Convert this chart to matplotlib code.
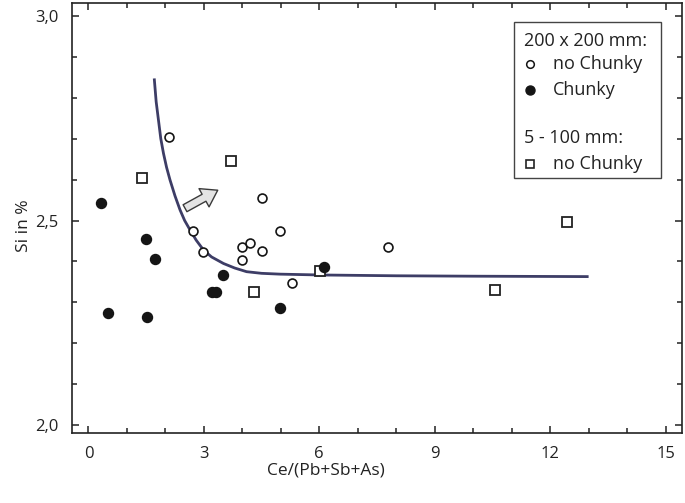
import matplotlib
matplotlib.use("Agg")
import matplotlib.pyplot as plt
from matplotlib.ticker import MultipleLocator, FixedLocator
from matplotlib.patches import Rectangle

plt.rcParams['font.family'] = ['Open Sans', 'DejaVu Sans']

# --- data ---
chunky_x = [0.33, 0.52, 1.50, 1.52, 1.73, 3.21, 3.32, 3.51, 4.98, 6.13]
chunky_y = [2.542, 2.273, 2.455, 2.265, 2.405, 2.325, 2.325, 2.366, 2.286, 2.387]

nochunky_x = [2.10, 4.50, 2.71, 4.99, 2.99, 4.00, 4.20, 4.51, 4.00, 5.30, 7.79]
nochunky_y = [2.703, 2.555, 2.475, 2.474, 2.424, 2.435, 2.444, 2.425, 2.404, 2.347, 2.436]

small_x = [1.39, 3.71, 4.29, 6.02, 10.58, 12.45]
small_y = [2.604, 2.645, 2.326, 2.377, 2.330, 2.497]

curve_x = [1.71, 1.76, 1.82, 1.88, 1.95, 2.03, 2.12, 2.25, 2.38, 2.50, 2.64, 2.80,
           2.99, 3.20, 3.51, 3.80, 4.11, 4.50, 4.98, 6.00, 8.00, 10.00, 13.00]
curve_y = [2.847, 2.790, 2.745, 2.700, 2.664, 2.630, 2.599, 2.560, 2.526, 2.500,
           2.477, 2.452, 2.428, 2.411, 2.395, 2.384, 2.375, 2.371, 2.369, 2.367,
           2.365, 2.364, 2.363]

arrow_tail = (2.51, 2.530)
arrow_tip = (3.36, 2.574)

x_ticks = [0, 3, 6, 9, 12, 15]
y_ticks = [2.0, 2.5, 3.0]
y_ticklabels = ["2,0", "2,5", "3,0"]

fig = plt.figure(figsize=(6.85, 5.03), dpi=100)
ax = fig.add_axes([72.3 / 685, 1 - 433 / 503, (681.7 - 72.3) / 685, (433 - 2.7) / 503])

ax.plot(curve_x, curve_y, color='#3d3d66', lw=2.0, zorder=2, solid_capstyle='butt')

ax.plot(chunky_x, chunky_y, 'o', ms=7.2, mfc='#151515', mec='#151515', mew=1.0, zorder=4)
ax.plot(nochunky_x, nochunky_y, 'o', ms=6.4, mfc='white', mec='#151515', mew=1.2, zorder=3)
ax.plot(small_x, small_y, 's', ms=6.6, mfc='white', mec='#222222', mew=1.3, zorder=3)

ax.annotate('', xy=arrow_tip, xytext=arrow_tail,
            arrowprops=dict(arrowstyle='simple,head_length=0.75,head_width=1.0,tail_width=0.38',
                            mutation_scale=15, fc='#e4e4e4', ec='#3a3a3a', lw=1.0,
                            shrinkA=0, shrinkB=0))

ax.set_xlim(-0.42, 15.42)
ax.set_ylim(1.981, 3.032)
ax.xaxis.set_major_locator(FixedLocator(x_ticks))
ax.xaxis.set_minor_locator(MultipleLocator(1))
ax.yaxis.set_major_locator(FixedLocator(y_ticks))
ax.set_yticklabels(y_ticklabels)
ax.yaxis.set_minor_locator(MultipleLocator(0.1))
ax.tick_params(which='both', direction='in', top=True, right=True, width=1.1, color='#222222')
ax.tick_params(which='major', length=5, labelsize=12, labelcolor='#222222', pad=9)
ax.tick_params(axis='y', which='major', pad=10)
ax.tick_params(which='minor', length=3.5)
for s in ax.spines.values():
    s.set_linewidth(1.2)
    s.set_color('#222222')

ax.set_xlabel('Ce/(Pb+Sb+As)', fontsize=12.5, color='#222222', va='center')
ax.set_ylabel('Si in %', fontsize=12.5, color='#222222', va='center')
ax.xaxis.set_label_coords(0.416, -0.086)
ax.yaxis.set_label_coords(-0.080, 0.481)

# legend box
ax.add_patch(Rectangle((0.725, 0.593), 0.241, 0.362, transform=ax.transAxes,
                       fill=False, ec='#444444', lw=1.0, zorder=5))
tx = 0.742
mx = 0.751
lx = 0.788
fs = 13
ax.text(tx, 0.912, '200 x 200 mm:', transform=ax.transAxes, fontsize=fs, va='center', color='#222222')
ax.plot([mx], [0.858], 'o', transform=ax.transAxes, ms=5.5, mfc='white', mec='#151515', mew=1.1, clip_on=False)
ax.text(lx, 0.858, 'no Chunky', transform=ax.transAxes, fontsize=fs, va='center', color='#222222')
ax.plot([mx], [0.798], 'o', transform=ax.transAxes, ms=6.5, mfc='#151515', mec='#151515', clip_on=False)
ax.text(lx, 0.798, 'Chunky', transform=ax.transAxes, fontsize=fs, va='center', color='#222222')
ax.text(tx, 0.685, '5 - 100 mm:', transform=ax.transAxes, fontsize=fs, va='center', color='#222222')
ax.plot([mx], [0.625], 's', transform=ax.transAxes, ms=6.0, mfc='white', mec='#222222', mew=1.2, clip_on=False)
ax.text(lx, 0.625, 'no Chunky', transform=ax.transAxes, fontsize=fs, va='center', color='#222222')

fig.savefig('out.png', dpi=100)
